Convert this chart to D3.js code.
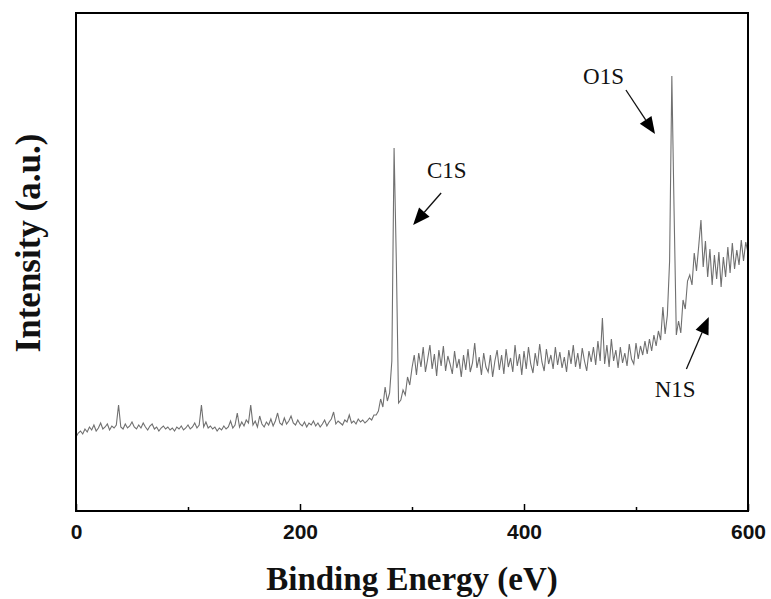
<!DOCTYPE html>
<html>
<head>
<meta charset="utf-8">
<script src="https://d3js.org/d3.v7.min.js"></script>
<style>
  body { margin: 0; background: #fff; }
  svg { display: block; }
</style>
</head>
<body>
<div id="chart"></div>
<script>
// XPS survey spectrum, one reading every 2 eV from 0 to 600 eV (a.u.)
var energyStart = 0;
var energyStep = 2;
var intensity = [
  74, 78, 80, 77, 82, 79, 84, 81, 86, 80, 83, 88, 82, 84, 87, 81, 85, 83, 86, 106,
  84, 82, 87, 83, 85, 89, 84, 82, 86, 83, 88, 84, 81, 85, 87, 82, 84, 80, 83, 85,
  82, 84, 81, 83, 80, 84, 82, 85, 81, 83, 86, 82, 84, 88, 83, 86, 106, 84, 89, 83,
  85, 82, 84, 80, 83, 81, 85, 82, 84, 90, 83, 86, 98, 84, 89, 85, 91, 88, 106, 86,
  90, 84, 95, 87, 84, 89, 86, 92, 85, 90, 98, 88, 86, 93, 87, 90, 95, 88, 86, 91,
  87, 85, 89, 84, 88, 86, 90, 85, 88, 84, 87, 91, 85, 89, 92, 99, 87, 90, 88, 86,
  91, 89, 96, 88, 90, 87, 92, 89, 91, 88, 90, 93, 91, 96, 96, 100, 112, 104, 124, 110,
  118, 150, 363, 250, 108, 111, 121, 116, 134, 126, 143, 156, 136, 158, 144, 164, 139, 152, 166, 142,
  157, 135, 161, 145, 165, 140, 155, 147, 137, 160, 143, 152, 134, 156, 141, 162, 139, 148, 168, 143,
  154, 136, 158, 144, 139, 156, 134, 150, 161, 141, 156, 137, 162, 144, 153, 139, 166, 145, 157, 136,
  160, 142, 164, 147, 138, 158, 145, 167, 149, 140, 162, 147, 156, 142, 164, 146, 159, 143, 154, 139,
  161, 147, 166, 144, 158, 142, 163, 150, 140, 160, 149, 164, 146, 170, 150, 193, 147, 166, 144, 172,
  150, 161, 143, 164, 148, 158, 145, 167, 152, 147, 168, 152, 165, 156, 170, 157, 172, 160, 176, 165,
  180, 171, 204, 177, 196, 250, 435, 300, 176, 190, 178, 211, 202, 230, 236, 226, 258, 240, 265, 291,
  244, 270, 234, 262, 226, 256, 232, 259, 224, 254, 234, 264, 238, 268, 242, 261, 246, 271, 250, 269,
  258
];

var xTicks = [0, 200, 400, 600];
var xMinorTicks = [100, 300, 500];

var peakLabels = ["C1S", "O1S", "N1S"];
// label anchor [eV, a.u.], arrow tail and arrow tip [eV, a.u.]
var labelAt = [[331, 333], [471, 427], [535, 114]];
var arrowFrom = [[326, 318], [491, 421], [545, 142]];
var arrowTo = [[301, 286], [517, 377], [565, 194]];

var xTitle = "Binding Energy (eV)";
var yTitle = "Intensity (a.u.)";

var width = 771, height = 599;
var margin = { top: 13, right: 23, bottom: 88, left: 76 };

var svg = d3.select("#chart")
  .append("svg")
  .attr("width", width)
  .attr("height", height);

var x = d3.scaleLinear()
  .domain([0, 600])
  .range([margin.left, width - margin.right]);

var y = d3.scaleLinear()
  .domain([0, 498])
  .range([height - margin.bottom, margin.top]);

var points = intensity.map(function (v, i) {
  return [energyStart + i * energyStep, v];
});

// spectrum
var line = d3.line()
  .x(function (d) { return x(d[0]); })
  .y(function (d) { return y(d[1]); });

svg.append("path")
  .datum(points)
  .attr("fill", "none")
  .attr("stroke", "#707070")
  .attr("stroke-width", 1.1)
  .attr("d", line);

// x axis, ticks pointing inside
var xAxis = svg.append("g")
  .attr("transform", "translate(0," + (height - margin.bottom) + ")")
  .call(d3.axisBottom(x)
    .tickValues(xTicks)
    .tickSizeInner(-7)
    .tickSizeOuter(0)
    .tickPadding(13)
    .tickFormat(d3.format("d")));

xAxis.select(".domain").remove();
xAxis.selectAll("line").attr("stroke", "#000").attr("stroke-width", 1.5);
xAxis.selectAll("text")
  .attr("fill", "#111")
  .style("font-family", "'Liberation Sans', Arial, sans-serif")
  .style("font-size", "21px")
  .style("font-weight", "bold");

var xMinor = svg.append("g")
  .attr("transform", "translate(0," + (height - margin.bottom) + ")")
  .call(d3.axisBottom(x)
    .tickValues(xMinorTicks)
    .tickSizeInner(-4)
    .tickSizeOuter(0)
    .tickFormat(""));
xMinor.select(".domain").remove();
xMinor.selectAll("line").attr("stroke", "#000").attr("stroke-width", 1.5);

// frame
svg.append("rect")
  .attr("x", x(0))
  .attr("y", y(498))
  .attr("width", x(600) - x(0))
  .attr("height", y(0) - y(498))
  .attr("fill", "none")
  .attr("stroke", "#000")
  .attr("stroke-width", 2);

// annotations
var serif = "'Liberation Serif', 'Times New Roman', serif";
peakLabels.forEach(function (name, i) {
  svg.append("text")
    .attr("x", x(labelAt[i][0]))
    .attr("y", y(labelAt[i][1]))
    .attr("text-anchor", "middle")
    .style("font-family", serif)
    .style("font-size", "23px")
    .attr("fill", "#111")
    .text(name);

  var x0 = x(arrowFrom[i][0]), y0 = y(arrowFrom[i][1]);
  var x1 = x(arrowTo[i][0]), y1 = y(arrowTo[i][1]);
  var ang = Math.atan2(y1 - y0, x1 - x0);
  var headLen = 17, headHalf = 7;
  var bx = x1 - headLen * Math.cos(ang), by = y1 - headLen * Math.sin(ang);

  svg.append("line")
    .attr("x1", x0).attr("y1", y0)
    .attr("x2", bx).attr("y2", by)
    .attr("stroke", "#111")
    .attr("stroke-width", 1.3);

  svg.append("polygon")
    .attr("points", [
      [x1, y1],
      [bx + headHalf * Math.sin(ang), by - headHalf * Math.cos(ang)],
      [bx - headHalf * Math.sin(ang), by + headHalf * Math.cos(ang)]
    ].map(function (p) { return p.join(","); }).join(" "))
    .attr("fill", "#000");
});

// axis titles
svg.append("text")
  .attr("x", (x(0) + x(600)) / 2)
  .attr("y", 590)
  .attr("text-anchor", "middle")
  .style("font-family", serif)
  .style("font-size", "33px")
  .style("font-weight", "bold")
  .attr("fill", "#111")
  .text(xTitle);

svg.append("text")
  .attr("transform", "translate(40,243) rotate(-90)")
  .attr("text-anchor", "middle")
  .style("font-family", serif)
  .style("font-size", "35px")
  .style("font-weight", "bold")
  .attr("fill", "#111")
  .text(yTitle);
</script>
</body>
</html>
